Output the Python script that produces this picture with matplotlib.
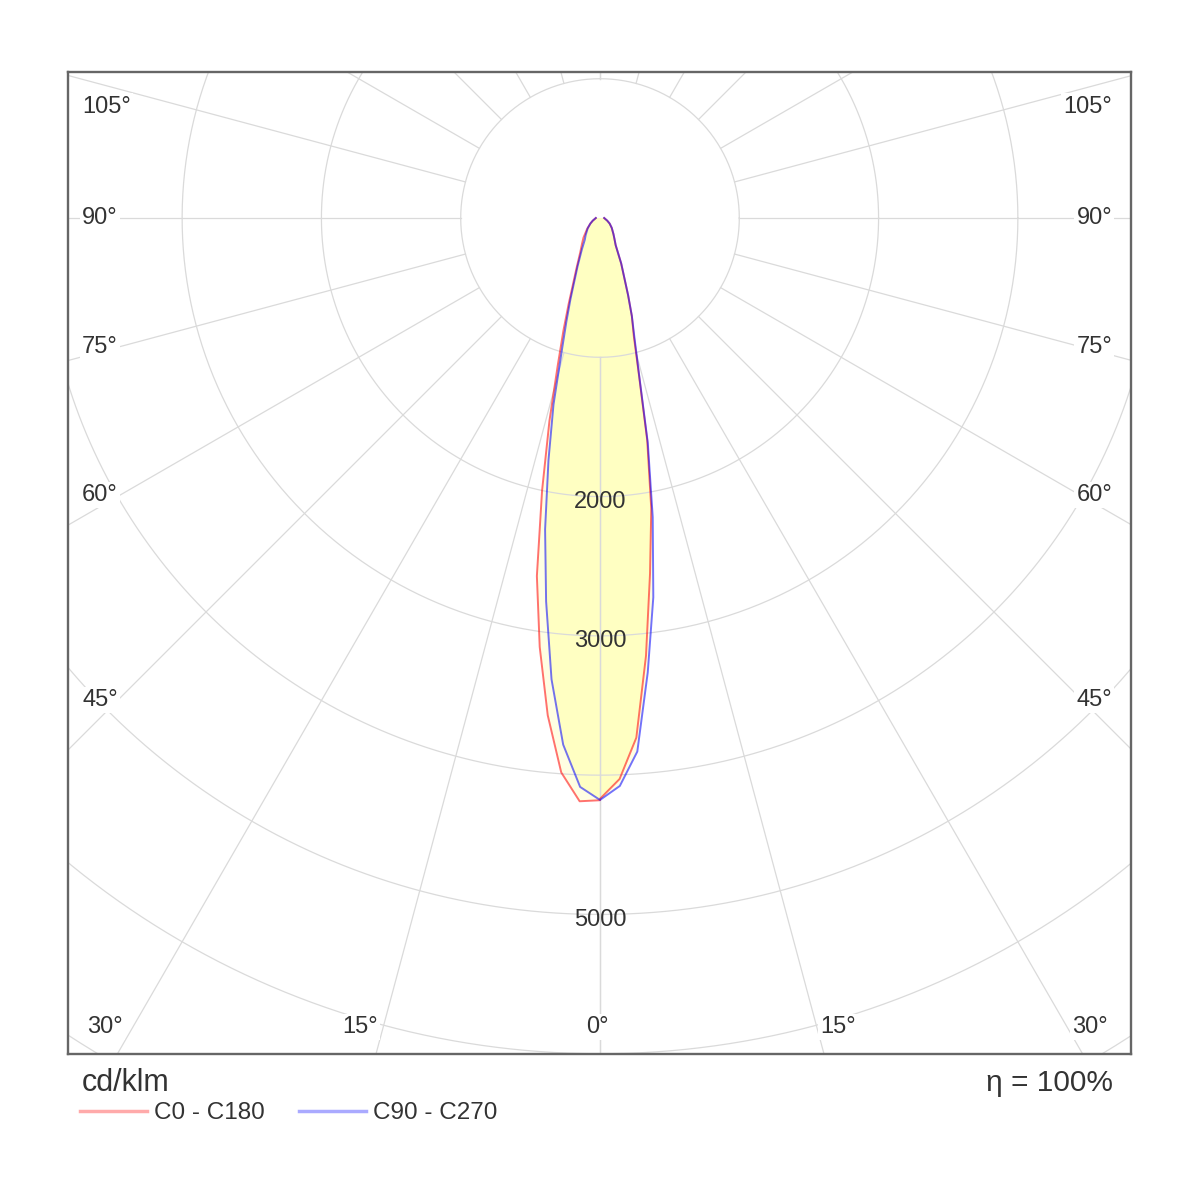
import numpy as np
import matplotlib.pyplot as plt
from matplotlib.lines import Line2D

plt.rcParams['font.family'] = ['Liberation Sans', 'DejaVu Sans']

# luminous intensity (cd/klm) against gamma angle
gamma = [0, 2, 4, 6, 8, 10, 12, 14, 16, 18, 20, 25, 30, 35, 40, 50, 60, 70, 80, 90]
c0 = [4170, 4030, 3740, 3160, 2580, 2120, 1630, 1150, 880, 740, 590, 360, 225, 180, 150, 110, 80, 55, 38, 30]
c180 = [4180, 4190, 3990, 3590, 3110, 2610, 2000, 1500, 1100, 850, 660, 400, 283, 225, 185, 120, 80, 55, 38, 30]
c90 = [4178, 4080, 3840, 3280, 2750, 2180, 1650, 1160, 900, 740, 590, 360, 225, 180, 150, 110, 80, 55, 38, 30]
c270 = [4178, 4087, 3790, 3330, 2780, 2270, 1780, 1380, 1000, 780, 620, 380, 260, 190, 160, 115, 80, 55, 38, 30]

rings = [1000, 2000, 3000, 4000, 5000, 6000, 7000, 8000, 9000]
ring_labels = ['2000', '3000', '5000']
spokes = list(range(0, 181, 15))

side_labels = ['105°', '90°', '75°', '60°', '45°']
side_label_y = [800, 0, -926, -1989, -3460]
bottom_labels = ['30°', '15°', '0°', '15°', '30°']
bottom_label_x = [-3554, -1723, -20, 1709, 3518]

# layout: centre of the diagram in pixels and pixels per 1000 cd
cx, cy, s = 600, 218, 139.29 / 1000
left, right, top, bottom = 68, 1131, 72, 1054

fig = plt.figure(figsize=(12, 12), dpi=100)
ax = fig.add_axes([left / 1200, 1 - bottom / 1200, (right - left) / 1200, (bottom - top) / 1200])
ax.set_xlim((left - cx) / s, (right - cx) / s)
ax.set_ylim((cy - bottom) / s, (cy - top) / s)
ax.set_xticks([])
ax.set_yticks([])
for sp in ax.spines.values():
    sp.set_color('#666666')
    sp.set_linewidth(1.7)

g = np.radians(gamma)


def curve(left_vals, right_vals):
    lv = np.asarray(left_vals, float)
    rv = np.asarray(right_vals, float)
    x = np.concatenate([-lv[::-1] * np.sin(g[::-1]), rv * np.sin(g)])
    y = np.concatenate([-lv[::-1] * np.cos(g[::-1]), -rv * np.cos(g)])
    return x, y


# fills: union pale, overlap stronger
ux, uy = curve(np.maximum(c180, c270), np.maximum(c0, c90))
ix, iy = curve(np.minimum(c180, c270), np.minimum(c0, c90))
ax.fill(ux, uy, color='#fffee2', lw=0, zorder=1)
ax.fill(ix, iy, color='#ffffc2', lw=0, zorder=1)

# grid
t = np.linspace(0, 2 * np.pi, 720)
grid_kw = dict(color='#dadada', lw=0.9, zorder=2)
for r in rings:
    ax.plot(r * np.cos(t), r * np.sin(t), **grid_kw)
for a in spokes:
    ar = np.radians(a)
    for sgn in (-1, 1):
        ax.plot([sgn * 1000 * np.sin(ar), sgn * 12000 * np.sin(ar)],
                [-1000 * np.cos(ar), -12000 * np.cos(ar)], **grid_kw)

# curves
rx, ry = curve(c180, c0)
bx, by = curve(c270, c90)
ax.plot(rx, ry, color='#ff0000', alpha=0.55, lw=1.4, zorder=4)
ax.plot(bx, by, color='#0000ff', alpha=0.55, lw=1.4, zorder=4)

txt = dict(fontsize=17, color='#333333', zorder=5)
box = dict(facecolor='white', edgecolor='none', pad=1.5)
for lab in ring_labels:
    ax.text(0, -int(lab) - 40, lab, ha='center', va='center', **txt)
for lab, y in zip(side_labels, side_label_y):
    ax.text((82 - cx) / s, y, lab, ha='left', va='center', bbox=box, **txt)
    ax.text((1112 - cx) / s, y, lab, ha='right', va='center', bbox=box, **txt)
for lab, x in zip(bottom_labels, bottom_label_x):
    ax.text(x, (cy - 1027) / s, lab, ha='center', va='center', bbox=box, **txt)

fig.text(82 / 1200, 1 - 1083 / 1200, 'cd/klm', fontsize=22, color='#333333', ha='left', va='center')
fig.text(1113 / 1200, 1 - 1083 / 1200, 'η = 100%', fontsize=21.5, color='#333333', ha='right', va='center')

handles = [Line2D([], [], color='#ffaaaa', lw=2.5), Line2D([], [], color='#aaaaff', lw=2.5)]
fig.legend(handles, ['C0 - C180', 'C90 - C270'], loc='center left',
           bbox_to_anchor=(80 / 1200, 1 - 1113 / 1200), ncol=2, frameon=False,
           fontsize=17.5, handlelength=2.75, handletextpad=0.3, columnspacing=1.4,
           labelcolor='#333333', borderaxespad=0, borderpad=0)

fig.savefig('out.png', dpi=100, facecolor='white')
